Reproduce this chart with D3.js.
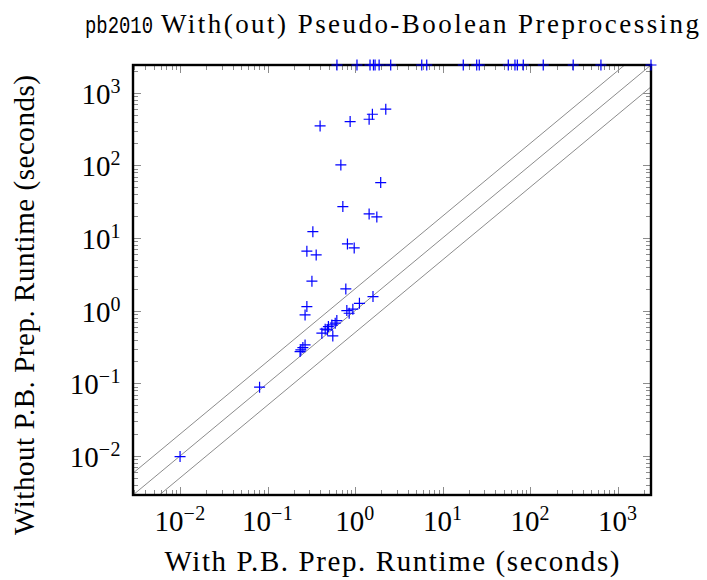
<!DOCTYPE html>
<html>
<head>
<meta charset="utf-8">
<script src="https://cdn.jsdelivr.net/npm/d3@7"></script>
<style>
  body { margin: 0; background: #fff; }
  svg { display: block; }
  text { font-family: "Liberation Serif", "DejaVu Serif", "Times New Roman", serif; fill: #000; }
</style>
</head>
<body>
<svg id="chart" width="707" height="580"></svg>
<script>
// ---- data (seconds) ----
const timeoutValue = 2400;
// solved with P.B. preprocessing, timed out without it
const timeoutX = [0.62, 1.05, 1.48, 1.62, 1.69, 1.88, 2.55, 5.77, 6.58, 17.2, 24.5, 26.2, 56.2, 67, 71.3, 83.4, 141, 310, 643, 2400];
// both solved
const withPrep = [0.398, 0.877, 1.445, 1.575, 2.24, 0.687, 1.96, 0.724, 1.445, 1.77,
  0.329, 0.817, 0.976, 0.281, 0.359, 0.321, 0.783, 0.281, 0.268, 1.60,
  1.12, 0.942, 0.804, 0.855, 0.618, 0.592, 0.542, 0.495, 0.455, 0.483,
  0.417, 0.556, 0.268, 0.253, 0.24, 0.235, 0.081, 0.010];
const withoutPrep = [348, 399, 430, 504, 591, 101, 57.8, 27, 21.4, 19.5,
  12.2, 8.28, 7.29, 6.57, 5.84, 2.54, 1.99, 1.135, 0.873, 1.56,
  1.26, 1.045, 1.0, 0.92, 0.729, 0.671, 0.636, 0.603, 0.555, 0.543,
  0.489, 0.449, 0.337, 0.31, 0.288, 0.273, 0.0883, 0.0098];
const axisDomain = [0.0029, 2400];
const decades = [-2, -1, 0, 1, 2, 3];
const ratioLines = [2, 1, 0.5];
const titleMono = "pb2010";
const titleRest = "With(out) Pseudo-Boolean Preprocessing";
const xLabel = "With P.B. Prep. Runtime (seconds)";
const yLabel = "Without P.B. Prep. Runtime (seconds)";

// ---- layout ----
const svg = d3.select("#chart");
const L = 133, R = 651, T = 65, B = 495;
const x = d3.scaleLog().domain(axisDomain).range([L, R]);
const y = d3.scaleLog().domain(axisDomain).range([B, T]);

svg.append("clipPath").attr("id", "clip")
  .append("rect").attr("x", L).attr("y", T).attr("width", R - L).attr("height", B - T);

// minor & major ticks (inward, all four sides)
const allTicks = [];
for (let e = -3; e <= 3; e++) {
  for (let m = 1; m <= 9; m++) {
    const v = m * Math.pow(10, e);
    if (v >= axisDomain[0] && v <= axisDomain[1]) allTicks.push({v, major: m === 1});
  }
}
const tickG = svg.append("g").attr("stroke", "#8c8c8c").attr("stroke-width", 1);
allTicks.forEach(t => {
  const len = t.major ? 8 : 5;
  const px = Math.round(x(t.v)) + 0.5, py = Math.round(y(t.v)) + 0.5;
  tickG.append("line").attr("x1", px).attr("x2", px).attr("y1", B).attr("y2", B - len);
  tickG.append("line").attr("x1", px).attr("x2", px).attr("y1", T).attr("y2", T + len);
  tickG.append("line").attr("y1", py).attr("y2", py).attr("x1", L).attr("x2", L + len);
  tickG.append("line").attr("y1", py).attr("y2", py).attr("x1", R).attr("x2", R - len);
});

// ratio lines y = k x
const lineG = svg.append("g").attr("clip-path", "url(#clip)");
ratioLines.forEach(k => {
  const x0 = axisDomain[0] / 10, x1 = axisDomain[1] * 10;
  lineG.append("line")
    .attr("x1", x(x0)).attr("y1", y(k * x0))
    .attr("x2", x(x1)).attr("y2", y(k * x1))
    .attr("stroke", "#8c8c8c").attr("stroke-width", 1);
});

// frame
svg.append("rect").attr("x", L).attr("y", T).attr("width", R - L).attr("height", B - T)
  .attr("fill", "none").attr("stroke", "#000").attr("stroke-width", 2.4);

// markers
const pts = withPrep.map((v, i) => [v, withoutPrep[i]])
  .concat(timeoutX.map(v => [v, timeoutValue]));
const s = 5.5;
const mk = svg.append("g").attr("stroke", "#0000ff").attr("stroke-width", 1.2).attr("fill", "none");
pts.forEach(([a, b]) => {
  const px = x(a), py = y(b);
  mk.append("path").attr("d", `M${px - s},${py}H${px + s}M${px},${py - s}V${py + s}`);
});

// tick labels
function expLabel(g, e) {
  g.append("tspan").text("10").attr("font-size", 29);
  g.append("tspan").text(e < 0 ? "\u2212" + (-e) : String(e))
    .attr("font-size", 20).attr("dy", -11).attr("letter-spacing", 0.5);
}
decades.forEach(e => {
  const v = Math.pow(10, e);
  const tx = svg.append("text").attr("x", x(v)).attr("y", 531).attr("text-anchor", "middle");
  expLabel(tx, e);
  const ty = svg.append("text").attr("x", 121).attr("y", y(v) + 11).attr("text-anchor", "end");
  expLabel(ty, e);
});

// title
svg.append("text").attr("x", 85).attr("y", 33)
  .style("font-family", "'Liberation Mono', 'DejaVu Sans Mono', monospace")
  .attr("font-size", 23).attr("textLength", 68).attr("lengthAdjust", "spacingAndGlyphs").text(titleMono);
svg.append("text").attr("x", 161).attr("y", 33)
  .attr("font-size", 27).attr("textLength", 538).attr("lengthAdjust", "spacing").text(titleRest);

// axis labels
svg.append("text").attr("x", 392).attr("y", 571).attr("text-anchor", "middle")
  .attr("font-size", 29).attr("textLength", 455).attr("lengthAdjust", "spacing").text(xLabel);
svg.append("text").attr("transform", "translate(34,305) rotate(-90)").attr("text-anchor", "middle")
  .attr("font-size", 29).attr("textLength", 460).attr("lengthAdjust", "spacing").text(yLabel);
</script>
</body>
</html>
